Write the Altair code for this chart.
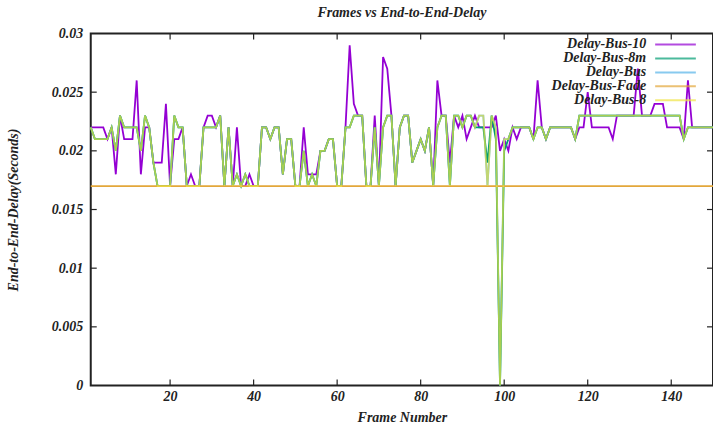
import altair as alt
import pandas as pd

# Frame index 1..150
FRAMES = list(range(1, 151))

# End-to-end delay (seconds) per frame for each scenario
DELAY_BUS_10 = [
    0.022, 0.022, 0.022, 0.022, 0.021, 0.022, 0.018, 0.023, 0.021, 0.021,
    0.021, 0.026, 0.018, 0.022, 0.022, 0.019, 0.019, 0.019, 0.024, 0.017,
    0.021, 0.021, 0.022, 0.017, 0.018, 0.017, 0.017, 0.022, 0.023, 0.023,
    0.022, 0.023, 0.017, 0.022, 0.017, 0.022, 0.017, 0.017, 0.018, 0.017,
    0.017, 0.022, 0.022, 0.021, 0.022, 0.022, 0.018, 0.021, 0.021, 0.017,
    0.017, 0.022, 0.018, 0.018, 0.018, 0.020, 0.020, 0.021, 0.021, 0.017,
    0.017, 0.022, 0.029, 0.024, 0.023, 0.023, 0.017, 0.017, 0.023, 0.017,
    0.028, 0.027, 0.023, 0.017, 0.022, 0.023, 0.023, 0.019, 0.020, 0.021,
    0.020, 0.022, 0.017, 0.026, 0.023, 0.023, 0.019, 0.023, 0.022, 0.023,
    0.021, 0.022, 0.023, 0.022, 0.022, 0.022, 0.022, 0.023, 0.020, 0.021,
    0.020, 0.022, 0.021, 0.022, 0.022, 0.022, 0.021, 0.026, 0.022, 0.021,
    0.022, 0.022, 0.022, 0.022, 0.022, 0.022, 0.021, 0.022, 0.022, 0.025,
    0.022, 0.022, 0.022, 0.022, 0.022, 0.021, 0.023, 0.023, 0.023, 0.023,
    0.023, 0.027, 0.023, 0.023, 0.023, 0.024, 0.024, 0.024, 0.022, 0.022,
    0.022, 0.022, 0.021, 0.026, 0.022, 0.022, 0.022, 0.022, 0.022, 0.022,
]

DELAY_BUS_8M = [
    0.022, 0.021, 0.021, 0.021, 0.021, 0.022, 0.020, 0.023, 0.022, 0.022,
    0.022, 0.022, 0.020, 0.023, 0.022, 0.019, 0.017, 0.017, 0.017, 0.017,
    0.023, 0.022, 0.022, 0.017, 0.017, 0.017, 0.017, 0.022, 0.022, 0.022,
    0.022, 0.023, 0.017, 0.022, 0.017, 0.018, 0.017, 0.018, 0.017, 0.017,
    0.017, 0.022, 0.022, 0.021, 0.022, 0.022, 0.018, 0.021, 0.021, 0.017,
    0.017, 0.020, 0.017, 0.018, 0.017, 0.020, 0.020, 0.021, 0.021, 0.017,
    0.017, 0.022, 0.022, 0.023, 0.023, 0.023, 0.017, 0.017, 0.022, 0.017,
    0.022, 0.023, 0.023, 0.017, 0.022, 0.023, 0.023, 0.019, 0.020, 0.021,
    0.020, 0.022, 0.017, 0.022, 0.023, 0.023, 0.017, 0.023, 0.023, 0.022,
    0.023, 0.023, 0.022, 0.022, 0.022, 0.019, 0.023, 0.021, 0.000, 0.020,
    0.021, 0.022, 0.022, 0.022, 0.022, 0.022, 0.021, 0.022, 0.022, 0.021,
    0.022, 0.022, 0.022, 0.022, 0.022, 0.022, 0.021, 0.023, 0.023, 0.023,
    0.023, 0.023, 0.023, 0.023, 0.023, 0.023, 0.023, 0.023, 0.023, 0.023,
    0.023, 0.023, 0.023, 0.023, 0.023, 0.023, 0.023, 0.023, 0.023, 0.023,
    0.023, 0.023, 0.021, 0.022, 0.022, 0.022, 0.022, 0.022, 0.022, 0.022,
]

DELAY_BUS = [
    0.022, 0.021, 0.021, 0.021, 0.021, 0.022, 0.020, 0.023, 0.022, 0.022,
    0.022, 0.022, 0.020, 0.023, 0.022, 0.019, 0.017, 0.017, 0.017, 0.017,
    0.023, 0.022, 0.022, 0.017, 0.017, 0.017, 0.017, 0.022, 0.022, 0.022,
    0.022, 0.023, 0.017, 0.022, 0.017, 0.018, 0.017, 0.018, 0.017, 0.017,
    0.017, 0.022, 0.022, 0.021, 0.022, 0.022, 0.018, 0.021, 0.021, 0.017,
    0.017, 0.020, 0.017, 0.018, 0.017, 0.020, 0.020, 0.021, 0.021, 0.017,
    0.017, 0.022, 0.022, 0.023, 0.023, 0.023, 0.017, 0.017, 0.022, 0.017,
    0.022, 0.023, 0.023, 0.017, 0.022, 0.023, 0.023, 0.019, 0.020, 0.021,
    0.020, 0.022, 0.017, 0.022, 0.023, 0.023, 0.017, 0.023, 0.023, 0.022,
    0.023, 0.023, 0.022, 0.023, 0.023, 0.017, 0.023, 0.022, 0.000, 0.021,
    0.021, 0.022, 0.022, 0.022, 0.022, 0.022, 0.021, 0.022, 0.022, 0.021,
    0.022, 0.022, 0.022, 0.022, 0.022, 0.022, 0.021, 0.023, 0.023, 0.023,
    0.023, 0.023, 0.023, 0.023, 0.023, 0.023, 0.023, 0.023, 0.023, 0.023,
    0.023, 0.023, 0.023, 0.023, 0.023, 0.023, 0.023, 0.023, 0.023, 0.023,
    0.023, 0.023, 0.021, 0.022, 0.022, 0.022, 0.022, 0.022, 0.022, 0.022,
]

# the fading-channel run stays at a constant delay for every frame
DELAY_BUS_FADE = [0.017] * len(FRAMES)

DELAY_BUS_8 = [
    0.022, 0.021, 0.021, 0.021, 0.021, 0.022, 0.020, 0.023, 0.022, 0.022,
    0.022, 0.022, 0.020, 0.023, 0.022, 0.019, 0.017, 0.017, 0.017, 0.017,
    0.023, 0.022, 0.022, 0.017, 0.017, 0.017, 0.017, 0.022, 0.022, 0.022,
    0.022, 0.023, 0.017, 0.022, 0.017, 0.018, 0.017, 0.018, 0.017, 0.017,
    0.017, 0.022, 0.022, 0.021, 0.022, 0.022, 0.018, 0.021, 0.021, 0.017,
    0.017, 0.020, 0.017, 0.018, 0.017, 0.020, 0.020, 0.021, 0.021, 0.017,
    0.017, 0.022, 0.022, 0.023, 0.023, 0.023, 0.017, 0.017, 0.022, 0.017,
    0.022, 0.023, 0.023, 0.017, 0.022, 0.023, 0.023, 0.019, 0.020, 0.021,
    0.020, 0.022, 0.017, 0.022, 0.023, 0.023, 0.017, 0.023, 0.023, 0.022,
    0.023, 0.023, 0.022, 0.023, 0.023, 0.017, 0.023, 0.022, 0.000, 0.021,
    0.021, 0.022, 0.022, 0.022, 0.022, 0.022, 0.021, 0.022, 0.022, 0.021,
    0.022, 0.022, 0.022, 0.022, 0.022, 0.022, 0.021, 0.023, 0.023, 0.023,
    0.023, 0.023, 0.023, 0.023, 0.023, 0.023, 0.023, 0.023, 0.023, 0.023,
    0.023, 0.023, 0.023, 0.023, 0.023, 0.023, 0.023, 0.023, 0.023, 0.023,
    0.023, 0.023, 0.021, 0.022, 0.022, 0.022, 0.022, 0.022, 0.022, 0.022,
]

SERIES = ["Delay-Bus-10", "Delay-Bus-8m", "Delay-Bus", "Delay-Bus-Fade", "Delay-Bus-8"]
COLORS = ["#9400d3", "#009e73", "#56b4e9", "#e3a73a", "#f0e442"]
VALUES = [DELAY_BUS_10, DELAY_BUS_8M, DELAY_BUS, DELAY_BUS_FADE, DELAY_BUS_8]
# stacking order of the runs (bottom to top)
DRAW_ORDER = ["Delay-Bus-10", "Delay-Bus", "Delay-Bus-8m", "Delay-Bus-Fade", "Delay-Bus-8"]

X_TICKS = [20, 40, 60, 80, 100, 120, 140]
Y_TICKS = [0, 0.005, 0.01, 0.015, 0.02, 0.025, 0.03]

FONT = "Liberation Serif"
FS = 14
W, H = 624, 353
X_DOMAIN = [1, 150]
Y_DOMAIN = [0, 0.03]

rows = []
for name, vals in zip(SERIES, VALUES):
    for f, v in zip(FRAMES, vals):
        rows.append({"frame": f, "delay": v, "series": name})
df = pd.DataFrame(rows)

x_scale = alt.Scale(domain=X_DOMAIN, nice=False, zero=False)
y_scale = alt.Scale(domain=Y_DOMAIN, nice=False)

# Key in the top-right corner, gnuplot style: right-aligned names with the
# line sample after them. The sample is a custom wide path on a small symbol
# size, so each entry row stays as tall as the text.
legend_opts = dict(
    title=None,
    orient="none",
    legendX=579.4,
    legendY=4,
    symbolType="M-3.4,0H3.4",
    symbolSize=144,
    symbolStrokeWidth=2,
    symbolOffset=0,
    labelFont=FONT,
    labelFontSize=FS,
    labelFontWeight="bold",
    labelFontStyle="italic",
    labelColor="#222222",
    labelAlign="right",
    labelOffset={"expr": "-36.4"},
    padding=0,
)
try:
    legend = alt.Legend(rowPadding=-2.3, **legend_opts)
except alt.utils.schemapi.SchemaValidationError:
    legend = alt.Legend(rowPadding=0, **legend_opts)

base = alt.Chart(df).mark_line(strokeWidth=1.8).encode(
    x=alt.X(
        "frame:Q",
        scale=x_scale,
        axis=alt.Axis(values=X_TICKS, title="Frame Number", labelPadding=4, titlePadding=7),
    ),
    y=alt.Y(
        "delay:Q",
        scale=y_scale,
        axis=alt.Axis(values=Y_TICKS, format="~g", title="End-to-End-Delay(Seconds)",
                      labelPadding=8, titlePadding=31),
    ),
    color=alt.Color("series:N", scale=alt.Scale(domain=SERIES, range=COLORS), legend=legend),
)

line_layers = []
for name in DRAW_ORDER:
    layer = base.transform_filter(alt.datum.series == name)
    if name == "Delay-Bus-8":
        layer = layer.mark_line(strokeWidth=1.8, opacity=0.7)
    line_layers.append(layer)

# inward-pointing ticks on all four sides of the frame
xt = pd.DataFrame({"frame": X_TICKS})
yt = pd.DataFrame({"delay": Y_TICKS[1:-1]})
tick = dict(color="#222222", strokeWidth=1.2)
x_t = alt.X("frame:Q", scale=x_scale)
y_t = alt.Y("delay:Q", scale=y_scale)
top_ticks = alt.Chart(xt).mark_rule(**tick).encode(x=x_t, y=alt.value(0), y2=alt.value(6))
bottom_ticks = alt.Chart(xt).mark_rule(**tick).encode(x=x_t, y=alt.value(H - 6), y2=alt.value(H))
left_ticks = alt.Chart(yt).mark_rule(**tick).encode(y=y_t, x=alt.value(0), x2=alt.value(6))
right_ticks = alt.Chart(yt).mark_rule(**tick).encode(y=y_t, x=alt.value(W - 6), x2=alt.value(W))

chart = (
    alt.layer(*line_layers, top_ticks, bottom_ticks, left_ticks, right_ticks)
    .properties(
        width=W,
        height=H,
        padding={"left": 91, "top": 33, "right": 0, "bottom": 39},
        autosize=alt.AutoSizeParams(type="none"),
        background="white",
        title=alt.TitleParams(
            "Frames vs End-to-End-Delay",
            font=FONT,
            fontSize=FS,
            fontWeight="bold",
            fontStyle="italic",
            color="#222222",
            anchor="middle",
            offset=7,
        ),
    )
    .configure_view(stroke="#222222", strokeWidth=2)
    .configure_axis(
        grid=False,
        domain=False,
        ticks=False,
        labelFont=FONT,
        labelFontSize=FS,
        labelFontWeight="bold",
        labelFontStyle="italic",
        labelColor="#222222",
        titleFont=FONT,
        titleFontSize=FS,
        titleFontWeight="bold",
        titleFontStyle="italic",
        titleColor="#222222",
    )
)

chart.save("out.html", embed_options={"renderer": "svg", "actions": False})
